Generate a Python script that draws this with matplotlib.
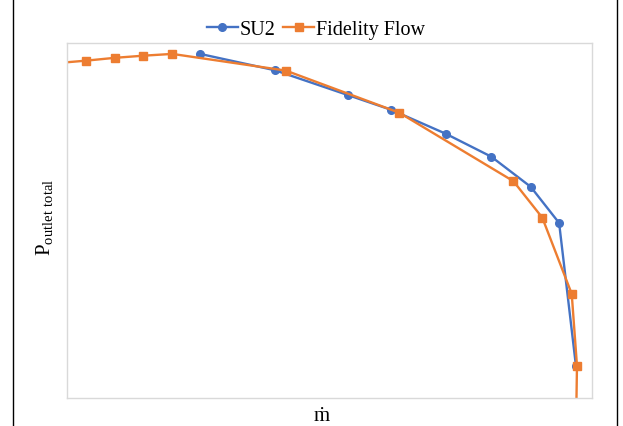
import matplotlib
matplotlib.use('Agg')
import matplotlib.pyplot as plt
from matplotlib.lines import Line2D

plt.rcParams['font.family'] = ['Liberation Serif', 'DejaVu Serif']
plt.rcParams['mathtext.fontset'] = 'custom'
plt.rcParams['mathtext.rm'] = 'Liberation Serif'

# normalised mass flow / outlet total pressure
su2_m = [0.254, 0.396, 0.535, 0.618, 0.721, 0.808, 0.883, 0.937, 0.969]
su2_p = [0.970, 0.924, 0.854, 0.812, 0.745, 0.680, 0.595, 0.493, 0.090]

ff_m = [-0.019, 0.037, 0.092, 0.146, 0.201, 0.417, 0.633, 0.850, 0.905, 0.961, 0.971, 0.968]
ff_p = [0.944, 0.951, 0.959, 0.965, 0.970, 0.923, 0.804, 0.611, 0.508, 0.293, 0.090, -0.200]

fig = plt.figure(figsize=(6.23, 4.26), dpi=100)
ax = fig.add_axes([0.107, 0.0664, 0.8436, 0.832])

ax.plot(su2_m, su2_p, color='#4472C4', lw=1.7, marker='o', ms=5.5, label='SU2')
ax.plot(ff_m, ff_p, color='#ED7D31', lw=1.7, marker='s', ms=5.5, label='Fidelity Flow')

ax.set_xlim(0, 1)
ax.set_ylim(0, 1)
ax.set_xticks([])
ax.set_yticks([])
for s in ax.spines.values():
    s.set_color('#d9d9d9')
    s.set_linewidth(1.0)

ax.set_xlabel('ṁ', fontsize=15)
ax.xaxis.set_label_coords(0.485, -0.025, transform=ax.transAxes)
ax.xaxis.label.set_va('top')
ax.set_ylabel(r'P$_{\mathrm{outlet\ total}}$', fontsize=15)
ax.yaxis.set_label_coords(-0.02, 0.51, transform=ax.transAxes)

ax.legend(loc='center', bbox_to_anchor=(316 / 623, 396 / 426),
          bbox_transform=fig.transFigure, ncol=2, frameon=False,
          fontsize=14.5, handlelength=1.5, handletextpad=0.1, columnspacing=0.4,
          borderpad=0.0, markerscale=1.0)

# page borders
fig.add_artist(Line2D([13 / 623, 13 / 623], [0, 1], color='black', lw=1.0))
fig.add_artist(Line2D([617 / 623, 617 / 623], [0, 1], color='black', lw=1.0))

fig.savefig('out.png', dpi=100)
